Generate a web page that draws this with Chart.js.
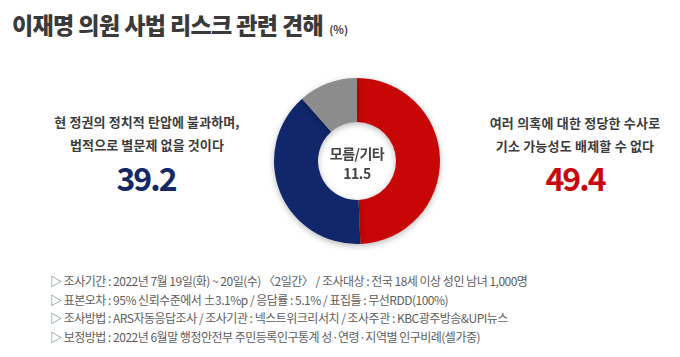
<!DOCTYPE html>
<html><head><meta charset="utf-8">
<script src="https://cdn.jsdelivr.net/npm/chart.js@4/dist/chart.umd.min.js"></script>
<style>
html,body{margin:0;padding:0;background:#fff;}
body{width:680px;height:357px;position:relative;overflow:hidden;font-family:"Noto Sans CJK KR","Noto Sans",sans-serif;}
.t{position:absolute;white-space:nowrap;}
#title{left:12px;top:8px;font-size:23px;font-weight:900;color:#3a3a3a;letter-spacing:-0.6px;line-height:32px;}
#title small{font-size:11px;font-weight:700;letter-spacing:0;margin-left:6px;color:#444;}
.lbl{font-size:13px;font-weight:700;color:#3c3c3c;text-align:center;line-height:23px;transform:translateX(-50%);}
.num{font-size:32px;font-weight:700;letter-spacing:-2px;transform:translateX(-50%);line-height:36px;}
.ctr{font-size:14px;font-weight:700;color:#444;transform:translateX(-50%);text-align:center;line-height:20px;letter-spacing:-0.5px;}
#notes{left:50px;top:272px;font-size:12px;color:#5e5e5e;line-height:18.6px;letter-spacing:-0.5px;}
#wrap{position:absolute;left:267px;top:71px;width:180px;height:180px;}
</style></head>
<body>
<div id="title" class="t">이재명 의원 사법 리스크 관련 견해<small>(%)</small></div>
<div id="lblL" class="t lbl" style="left:147px;top:110px;letter-spacing:0.1px;"></div>
<div id="numL" class="t num" style="left:146px;top:159px;color:#142867;"></div>
<div id="lblR" class="t lbl" style="left:575px;top:111px;letter-spacing:0.2px;"></div>
<div id="numR" class="t num" style="left:575px;top:159px;color:#c8080f;"></div>
<div id="wrap"><canvas id="c"></canvas></div>
<div id="ctr" class="t ctr" style="left:357px;top:143px;"></div>
<div id="notes" class="t"></div>
<script>
const categories = ['여러 의혹에 대한 정당한 수사로\n기소 가능성도 배제할 수 없다', '현 정권의 정치적 탄압에 불과하며,\n법적으로 별문제 없을 것이다', '모름/기타'];
const values = [49.4, 39.2, 11.5];
const colors = ['#c80606', '#10276b', '#8c8c8c'];
const notes = [
  '▷ 조사기간 : 2022년 7월 19일(화) ~ 20일(수) 〈2일간〉 / 조사대상 : 전국 18세 이상 성인 남녀 1,000명',
  '▷ 표본오차 : 95% 신뢰수준에서 ±3.1%p / 응답률 : 5.1% / 표집틀 : 무선RDD(100%)',
  '▷ 조사방법 : ARS자동응답조사 / 조사기관 : 넥스트위크리서치 / 조사주관 : KBC광주방송&UPI뉴스',
  '▷ 보정방법 : 2022년 6월말 행정안전부 주민등록인구통계 성·연령·지역별 인구비례(셀가중)'
];
const esc = s => s.replace(/&/g,'&amp;').replace(/</g,'&lt;');
document.getElementById('lblR').innerHTML = esc(categories[0]).replace('\n','<br>');
document.getElementById('lblL').innerHTML = esc(categories[1]).replace('\n','<br>');
document.getElementById('numR').textContent = values[0].toFixed(1);
document.getElementById('numL').textContent = values[1].toFixed(1);
document.getElementById('ctr').innerHTML = esc(categories[2]) + '<br>' + values[2].toFixed(1);
document.getElementById('notes').innerHTML = notes.map(esc).join('<br>');

const shadow = {
  id:'shadow',
  beforeDatasetsDraw(chart){ const c=chart.ctx; c.save(); c.shadowColor='rgba(0,0,0,0.28)'; c.shadowBlur=6; c.shadowOffsetY=2; },
  afterDatasetsDraw(chart){ chart.ctx.restore(); }
};
new Chart(document.getElementById('c'), {
  type:'doughnut',
  data:{ labels:categories, datasets:[{ data:values, backgroundColor:colors, borderWidth:0, hoverOffset:0 }] },
  options:{
    responsive:true, maintainAspectRatio:false, animation:false,
    cutout:'47%', rotation:0,
    layout:{ padding:7 },
    plugins:{ legend:{display:false}, tooltip:{enabled:false} }
  },
  plugins:[shadow]
});
</script>
</body></html>
